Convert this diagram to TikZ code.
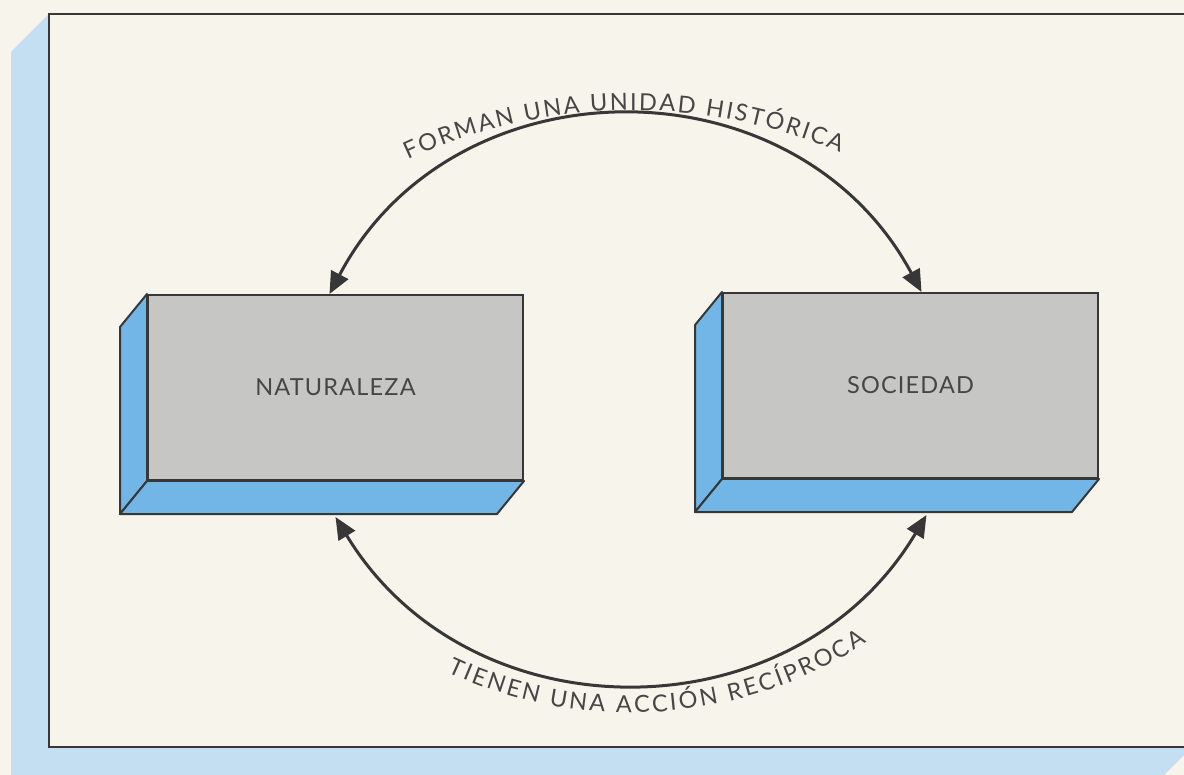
\documentclass[tikz,border=0pt]{standalone}
\usepackage{fontspec}
\setmainfont{Lato}
\newfontfamily\boxfont[LetterSpace=5]{Lato}
\usetikzlibrary{arrows.meta,decorations.text}
\definecolor{paper}{RGB}{247,244,235}
\definecolor{shadowblue}{RGB}{196,223,242}
\definecolor{sideblue}{RGB}{114,182,232}
\definecolor{facegray}{RGB}{198,198,196}
\definecolor{ink}{RGB}{55,55,55}
\definecolor{lettering}{RGB}{70,70,70}
\begin{document}
\begin{tikzpicture}[x=1pt,y=-1pt,
  face node/.style={rectangle,draw=ink,line width=2pt,fill=facegray,minimum width=375pt,minimum height=185pt,inner sep=0pt,font=\boxfont\fontsize{23.5}{23.5}\selectfont,text=lettering},
  depth face/.style={draw=ink,line width=2pt,fill=sideblue,line join=round},
  arc line/.style={draw=ink,line width=3pt,{Triangle[length=22pt,width=19pt]}-{Triangle[length=22pt,width=19pt]}},
  arc text/.style={decorate,decoration={text along path,text align={fit to path},text={|\fontsize{23.5}{23.5}\selectfont\color{lettering}|#1}}}]
  \useasboundingbox (0,0) rectangle (1184,775);
  \fill[paper] (0,0) rectangle (1184,775);
  \fill[shadowblue] (49,14) -- (11,52) -- (11,785) -- (1154,785) -- (1192,747) -- (49,747) -- cycle;
  \draw[ink,line width=2.4pt] (49,14) rectangle (1192,747);

  \node[face node] (nat) at (335.5,387.5) {NATURALEZA};
  \node[face node] (soc) at (910.5,385.5) {SOCIEDAD};
  \pgfmathsetmacro{\dx}{-27}
  \pgfmathsetmacro{\dy}{33}
  \foreach \bx in {nat,soc} {
    \draw[depth face] (\bx.north west) -- ++(\dx,\dy) -- ([shift={(\dx,\dy)}]\bx.south west) -- (\bx.south west) -- cycle;
    \draw[depth face] (\bx.south west) -- ([shift={(\dx,\dy)}]\bx.south west) -- ([shift={(\dx,\dy)}]\bx.south east) -- (\bx.south east) -- cycle;
  }

  \draw[arc line] ([xshift=-6pt]nat.north) to[bend left=62,looseness=1.15] ([xshift=11pt]soc.north);
  \draw[arc line] ([yshift=-36pt]nat.south) to[bend right=59,looseness=1.12] ([xshift=16pt,yshift=-36pt]soc.south);
  \path[arc text={FORMAN UNA UNIDAD HISTÓRICA}] (408,160) arc[start angle=245,end angle=293,radius=531];
  \path[arc text={TIENEN UNA ACCIÓN RECÍPROCA}] (447,672) arc[start angle=115,end angle=57,radius=434];
\end{tikzpicture}
\end{document}
